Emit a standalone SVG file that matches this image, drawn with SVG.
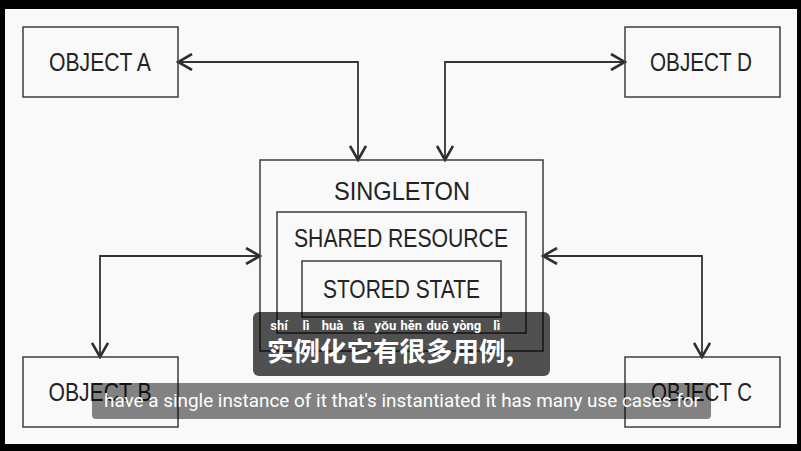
<svg xmlns="http://www.w3.org/2000/svg" width="801" height="451" viewBox="0 0 801 451">
  <defs>
    <marker id="chev" viewBox="-15 -9 17 18" refX="0" refY="0" markerWidth="17" markerHeight="18" markerUnits="userSpaceOnUse" orient="auto-start-reverse">
      <path d="M-14,-8 L0,0 L-14,8" fill="none" stroke="#2e2e2e" stroke-width="2.6" stroke-linejoin="miter" stroke-linecap="butt"/>
    </marker>
    <style>
      .box { fill: none; stroke: #3c3c3c; stroke-width: 1.5; }
      .lbl { font-family: "Liberation Sans", Arial, sans-serif; font-size: 25px; fill: #232323; text-anchor: middle; }
      .conn { fill: none; stroke: #333333; stroke-width: 1.8; marker-start: url(#chev); marker-end: url(#chev); }
      .py { font-family: Roboto, "Liberation Sans", sans-serif; font-size: 13px; font-weight: bold; fill: #ffffff; text-anchor: middle; }
      .zh { font-family: "Noto Sans CJK SC", sans-serif; font-size: 26.5px; font-weight: bold; fill: #ffffff; }
      .en { font-family: Roboto, "Liberation Sans", sans-serif; font-size: 19px; fill: #ffffff; }
    </style>
  </defs>

  <rect x="0" y="0" width="801" height="451" fill="#000000"/>
  <rect x="5" y="9" width="792" height="435" fill="#f9f9f9"/>

  <g id="connectors">
    <path class="conn" d="M178,62 H358 V160"/>
    <path class="conn" d="M445,160 V62 H625"/>
    <path class="conn" d="M260,256 H100 V357"/>
    <path class="conn" d="M543,256 H702 V357"/>
  </g>

  <g id="object-a">
    <rect class="box" x="23" y="27" width="155" height="70"/>
    <text class="lbl" x="100" y="71" textLength="102" lengthAdjust="spacingAndGlyphs">OBJECT A</text>
  </g>
  <g id="object-d">
    <rect class="box" x="625" y="27" width="155" height="70"/>
    <text class="lbl" x="701" y="71" textLength="102" lengthAdjust="spacingAndGlyphs">OBJECT D</text>
  </g>
  <g id="object-b">
    <rect class="box" x="23" y="357" width="155" height="70"/>
    <text class="lbl" x="100" y="401" textLength="103" lengthAdjust="spacingAndGlyphs">OBJECT B</text>
  </g>
  <g id="object-c">
    <rect class="box" x="625" y="357" width="155" height="70"/>
    <text class="lbl" x="701.5" y="401" textLength="101" lengthAdjust="spacingAndGlyphs">OBJECT C</text>
  </g>

  <g id="singleton">
    <rect class="box" x="260" y="160" width="283" height="191"/>
    <text class="lbl" x="402" y="200" textLength="136" lengthAdjust="spacingAndGlyphs">SINGLETON</text>
  </g>
  <g id="shared-resource">
    <rect class="box" x="277" y="212" width="249" height="121"/>
    <text class="lbl" x="401" y="247" font-size="24" textLength="214" lengthAdjust="spacingAndGlyphs">SHARED RESOURCE</text>
  </g>
  <g id="stored-state">
    <rect class="box" x="302" y="261" width="199" height="56"/>
    <text class="lbl" x="401.5" y="297.5" textLength="157" lengthAdjust="spacingAndGlyphs">STORED STATE</text>
  </g>

  <g id="subtitle-zh">
    <rect x="253" y="312" width="297" height="64" rx="6" fill="#000000" fill-opacity="0.68"/>
    <text class="py" x="279" y="330">shí</text>
    <text class="py" x="306" y="330">lì</text>
    <text class="py" x="332.5" y="330">huà</text>
    <text class="py" x="358.7" y="330">tā</text>
    <text class="py" x="385.3" y="330">yǒu</text>
    <text class="py" x="411.2" y="330">hěn</text>
    <text class="py" x="437.5" y="330">duō</text>
    <text class="py" x="467" y="330">yòng</text>
    <text class="py" x="496.7" y="330">lì</text>
    <text class="zh" x="267" y="361">实例化它有很多用例,</text>
  </g>

  <g id="subtitle-en">
    <rect x="92" y="383" width="619" height="36" rx="4" fill="#000000" fill-opacity="0.48"/>
    <text class="en" x="104" y="407" textLength="596" lengthAdjust="spacingAndGlyphs">have a single instance of it that's instantiated it has many use cases for</text>
  </g>
</svg>
